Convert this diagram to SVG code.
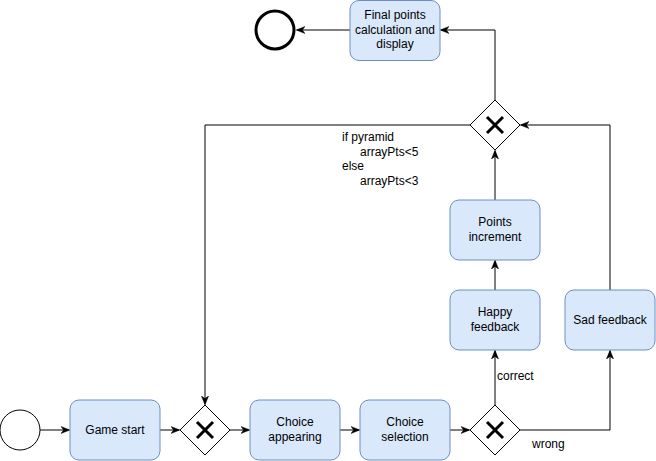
<svg xmlns="http://www.w3.org/2000/svg" width="656" height="461" viewBox="0 0 656 461">
<defs>
<style>
.task{fill:#dae8fc;stroke:#6c8ebf;stroke-width:1}
.gw{fill:#ffffff;stroke:#000000;stroke-width:1}
.x{stroke:#000000;stroke-width:3;fill:none}
.t{font-family:"Liberation Sans",Arial,sans-serif;font-size:12px;fill:#000000}
.c{text-anchor:middle}
.edge{fill:none;stroke:#000000;stroke-width:1}
</style>
<marker id="arr" viewBox="0 0 10 10" refX="9" refY="5" markerWidth="9" markerHeight="9" markerUnits="userSpaceOnUse" orient="auto">
<path d="M0,1 L10,5 L0,9 L3,5 Z" fill="#000000" stroke="#000000" stroke-width="0.5"/>
</marker>
</defs>
<rect width="656" height="461" fill="#ffffff"/>
<g id="connectors">
<path class="edge" d="M40,430 L69,430" marker-end="url(#arr)"/>
<path class="edge" d="M160,430 L179,430" marker-end="url(#arr)"/>
<path class="edge" d="M230,430 L249,430" marker-end="url(#arr)"/>
<path class="edge" d="M340,430 L359,430" marker-end="url(#arr)"/>
<path class="edge" d="M450,430 L469,430" marker-end="url(#arr)"/>
<path class="edge" d="M495,405 L495,351" marker-end="url(#arr)"/>
<path class="edge" d="M520,430 L610,430 L610,351" marker-end="url(#arr)"/>
<path class="edge" d="M495,290 L495,261" marker-end="url(#arr)"/>
<path class="edge" d="M495,200 L495,151" marker-end="url(#arr)"/>
<path class="edge" d="M610,290 L610,125 L521,125" marker-end="url(#arr)"/>
<path class="edge" d="M495,100 L495,30 L441,30" marker-end="url(#arr)"/>
<path class="edge" d="M350,30 L297,30" marker-end="url(#arr)"/>
<path class="edge" d="M470,125 L205,125 L205,404" marker-end="url(#arr)"/>
<text class="t" x="497" y="380">correct</text>
<text class="t" x="532" y="448">wrong</text>
<text class="t" x="342" y="141">if pyramid</text>
<text class="t" x="360" y="156">arrayPts&lt;5</text>
<text class="t" x="342" y="170">else</text>
<text class="t" x="360" y="185">arrayPts&lt;3</text>
</g>
<g id="start"><circle cx="20" cy="430" r="20" fill="#ffffff" stroke="#000000" stroke-width="1"/></g>
<g id="end"><circle cx="275" cy="30" r="19" fill="#ffffff" stroke="#000000" stroke-width="3"/></g>
<g id="game-start"><rect class="task" x="70" y="400" width="90" height="60" rx="9"/><text class="t c" x="115" y="434">Game start</text></g>
<g id="gateway1"><path class="gw" d="M205,405 L230,430 L205,455 L180,430 Z"/><path class="x" d="M197,422 L213,438 M213,422 L197,438"/></g>
<g id="choice-appearing"><rect class="task" x="250" y="400" width="90" height="60" rx="9"/><text class="t c" x="295" y="426">Choice</text><text class="t c" x="295" y="441">appearing</text></g>
<g id="choice-selection"><rect class="task" x="360" y="400" width="90" height="60" rx="9"/><text class="t c" x="405" y="426">Choice</text><text class="t c" x="405" y="441">selection</text></g>
<g id="gateway2"><path class="gw" d="M495,405 L520,430 L495,455 L470,430 Z"/><path class="x" d="M487,422 L503,438 M503,422 L487,438"/></g>
<g id="happy-feedback"><rect class="task" x="450" y="290" width="90" height="60" rx="9"/><text class="t c" x="495" y="316">Happy</text><text class="t c" x="495" y="331">feedback</text></g>
<g id="sad-feedback"><rect class="task" x="565" y="290" width="90" height="60" rx="9"/><text class="t c" x="610" y="324">Sad feedback</text></g>
<g id="points-increment"><rect class="task" x="450" y="200" width="90" height="60" rx="9"/><text class="t c" x="495" y="226">Points</text><text class="t c" x="495" y="241">increment</text></g>
<g id="gateway3"><path class="gw" d="M495,100 L520,125 L495,150 L470,125 Z"/><path class="x" d="M487,117 L503,133 M503,117 L487,133"/></g>
<g id="final-points"><rect class="task" x="350" y="0.5" width="90" height="60" rx="9"/><text class="t c" x="395" y="19">Final points</text><text class="t c" x="395" y="34">calculation and</text><text class="t c" x="395" y="48">display</text></g>
</svg>
